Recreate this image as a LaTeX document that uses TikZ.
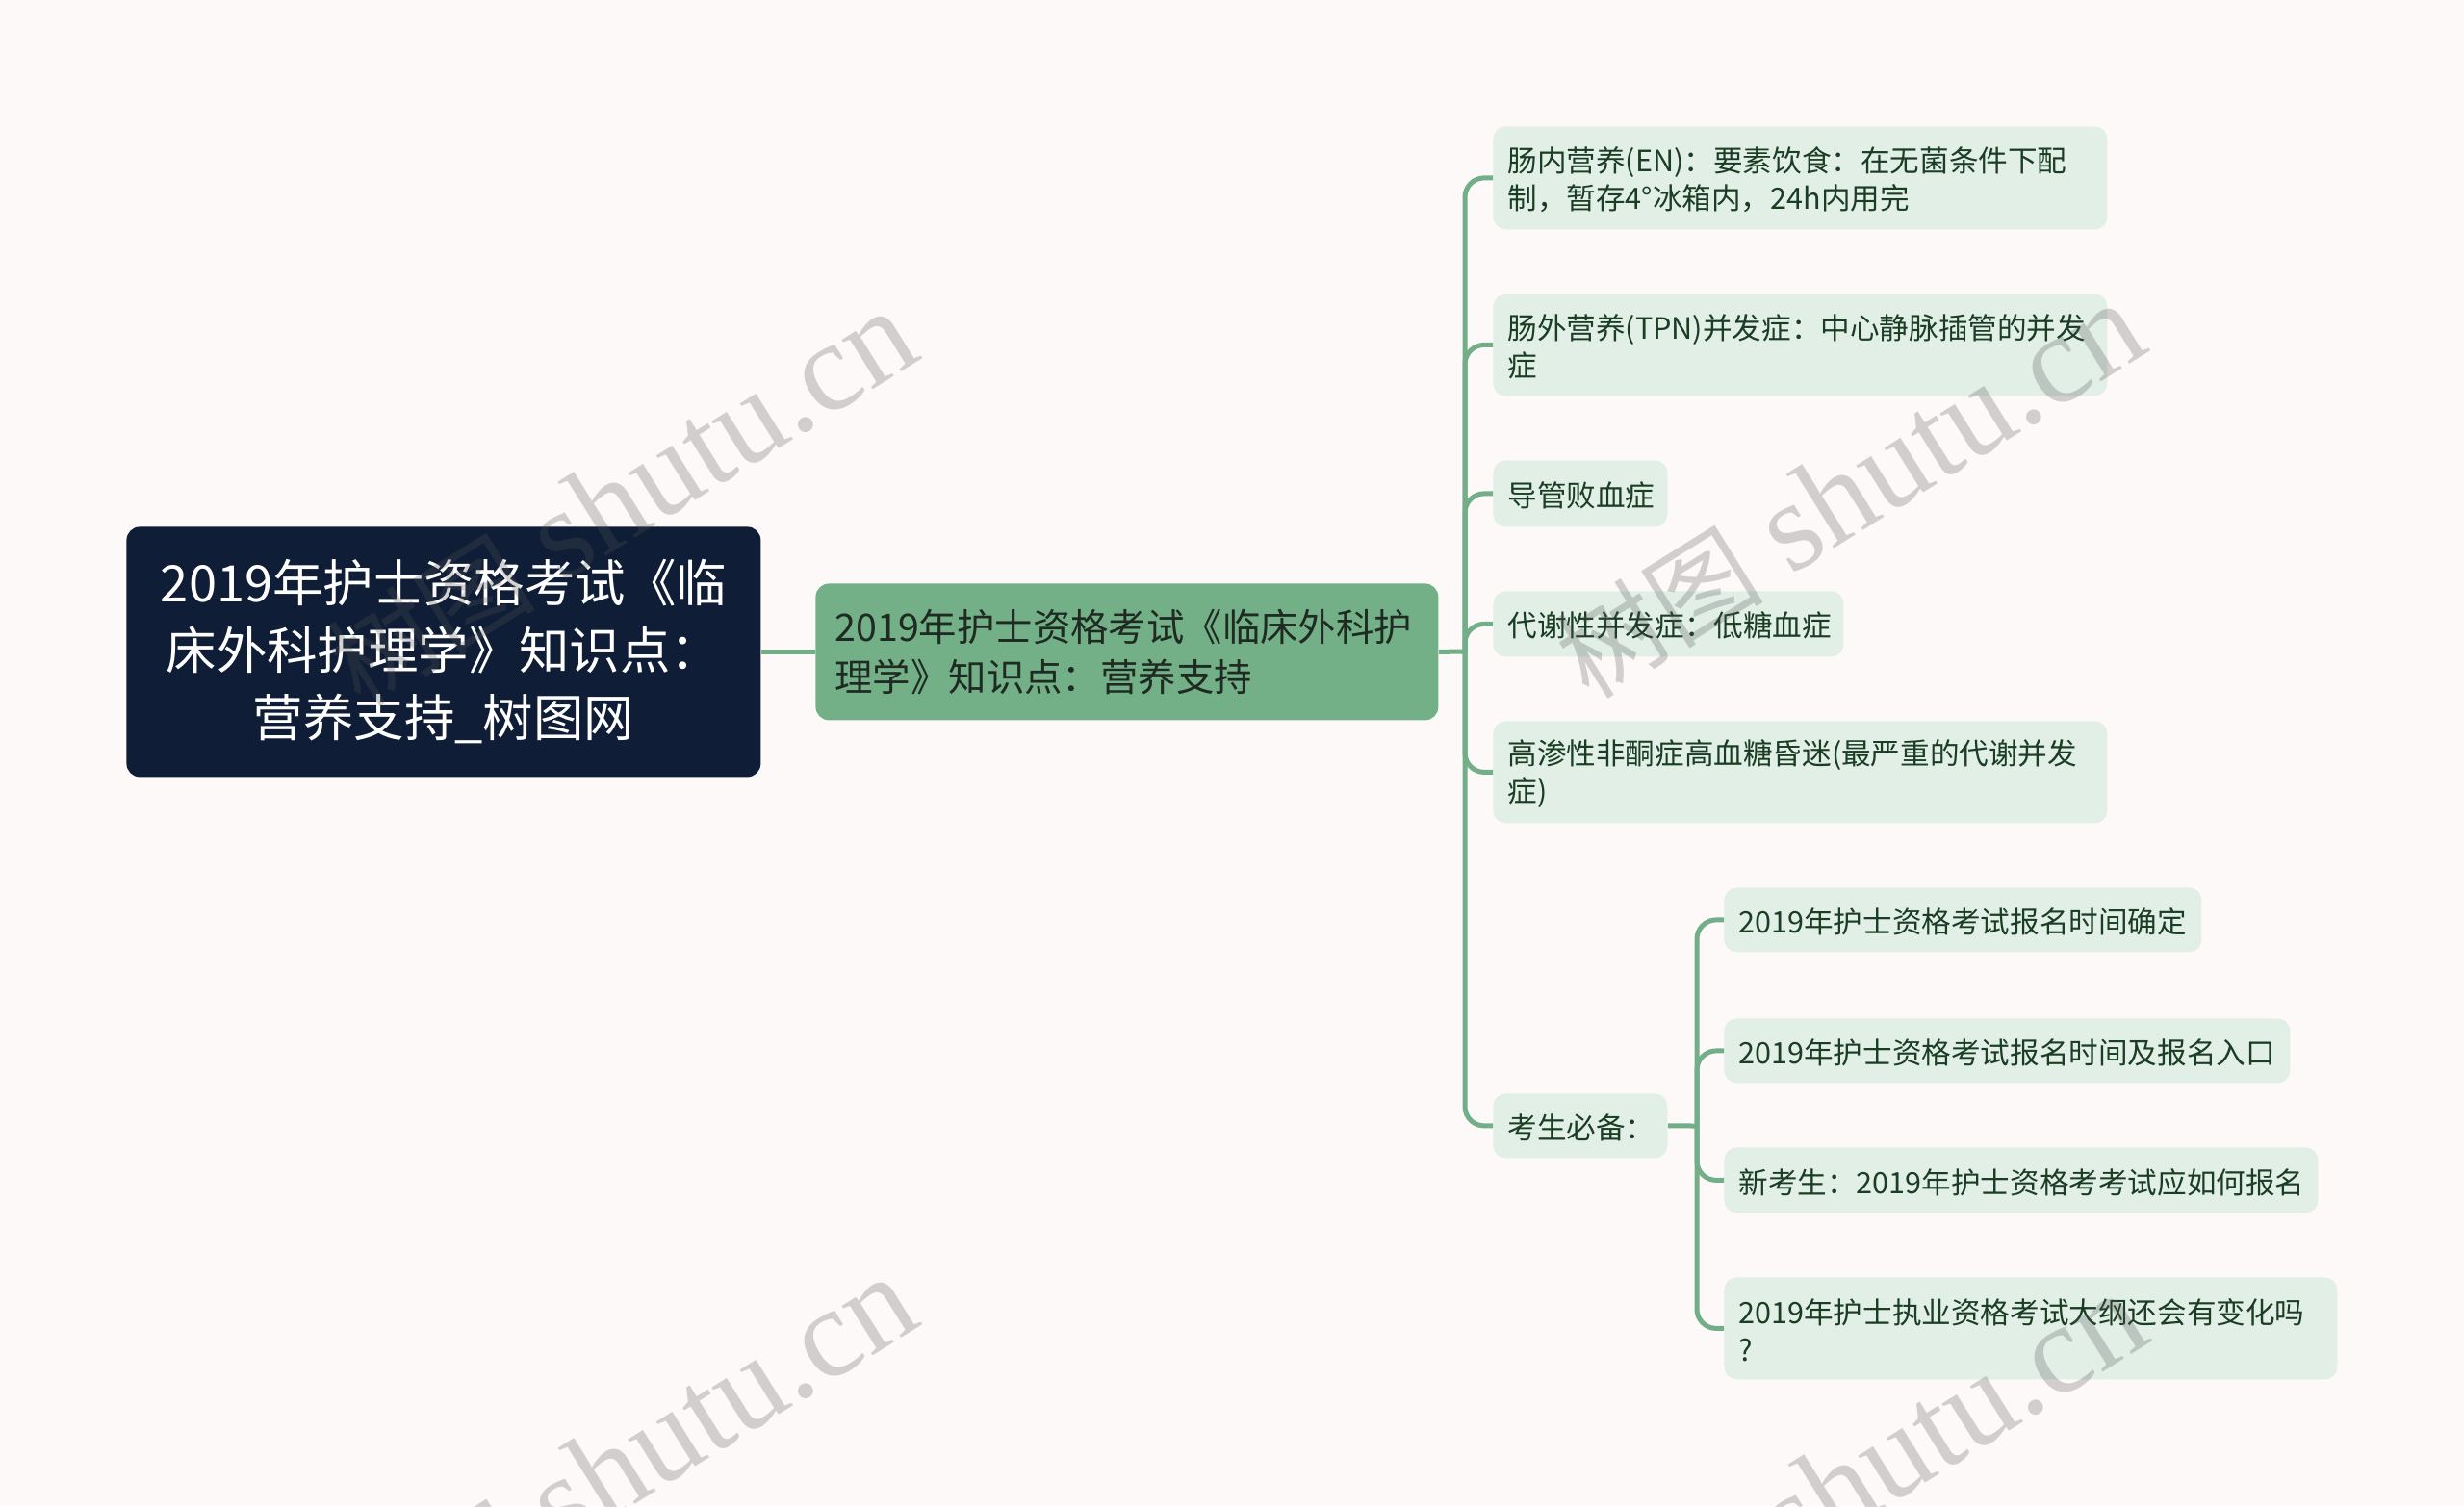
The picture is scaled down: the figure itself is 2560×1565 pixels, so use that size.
\documentclass[tikz,border=0pt]{standalone}
\usepackage{fontspec}
\setmainfont{Noto Sans CJK SC}
\newfontfamily\wmlatin{Liberation Serif}
\newfontfamily\wmcjk{Noto Sans CJK SC}
\usetikzlibrary{calc}
\definecolor{bgc}{HTML}{FDF9F8}
\definecolor{rootc}{HTML}{0F1D36}
\definecolor{mainc}{HTML}{73B087}
\definecolor{leafc}{HTML}{E1EFE6}
\definecolor{linec}{HTML}{72AE87}
\definecolor{leaftextc}{HTML}{1B3D24}
\definecolor{maintextc}{HTML}{1E2A22}
\definecolor{wmc}{HTML}{545454}
\newcommand\mkleaf[6]{%
  \node[leafbox, minimum width=#4*0.5pt, minimum height=#5*0.5pt, anchor=north west] (#1) at (#2,#3) {};
  \node[leaftxt, anchor=west] (#1t) at ([xshift=7.5pt,yshift=-1pt]#1.west) {#6};}
\newcommand\wmtext{{\fontsize{54}{54}\selectfont\wmcjk 树图} {\wmlatin shutu.cn}}
\begin{document}
\begin{tikzpicture}[x=0.5pt,y=-0.5pt,
  conn/.style={draw=linec, line width=2.5pt, rounded corners=10pt},
  rootbox/.style={fill=rootc, rounded corners=7pt, inner sep=0pt},
  roottxt/.style={text=white, font=\fontsize{26.2}{35}\selectfont, align=center, inner sep=0pt},
  mainbox/.style={fill=mainc, rounded corners=7pt, inner sep=0pt},
  maintxt/.style={text=maintextc, font=\fontsize{19.7}{26}\selectfont, align=left, inner sep=0pt},
  leafbox/.style={fill=leafc, rounded corners=6.5pt, inner sep=0pt},
  leaftxt/.style={text=leaftextc, font=\fontsize{15.3}{19.5}\selectfont, align=left, inner sep=0pt},
  wm/.style={text=wmc, opacity=0.26, font=\fontsize{66}{66}\selectfont, inner sep=0pt, rotate=32}]
\useasboundingbox[fill=bgc] (0,0) rectangle (2560,1565);

% root
\node[rootbox, minimum width=329.5pt, minimum height=130pt, anchor=north west] (root) at (131,547) {};
\node[roottxt] (roott) at (root.center) {2019年护士资格考试《临\\床外科护理学》知识点：\\营养支持\_树图网};

% main
\node[mainbox, minimum width=323.5pt, minimum height=71pt, anchor=north west] (main) at (847,606) {};
\node[maintxt, anchor=west] (maint) at ([xshift=10pt]main.west) {2019年护士资格考试《临床外科护\\理学》知识点：营养支持};

% leaves
\mkleaf{l1}{1551}{131}{638}{107}{肠内营养(EN)：要素饮食：在无菌条件下配\\制，暂存4°冰箱内，24h内用完}
\mkleaf{l2}{1551}{305}{638}{106}{肠外营养(TPN)并发症：中心静脉插管的并发\\症}
\mkleaf{l3}{1551}{478}{181}{69}{导管败血症}
\mkleaf{l4}{1551}{614}{364}{68}{代谢性并发症：低糖血症}
\mkleaf{l5}{1551}{749}{638}{106}{高渗性非酮症高血糖昏迷(最严重的代谢并发\\症)}
\mkleaf{l6}{1551}{1136}{181}{67}{考生必备：}

\mkleaf{s1}{1791}{922}{496}{67}{2019年护士资格考试报名时间确定}
\mkleaf{s2}{1791}{1058}{588}{67}{2019年护士资格考试报名时间及报名入口}
\mkleaf{s3}{1791}{1192}{617}{68}{新考生：2019年护士资格考考试应如何报名}
\mkleaf{s4}{1791}{1327}{637}{106}{2019年护士执业资格考试大纲还会有变化吗\\?}

% connectors
\draw[conn] (root.east) -- (main.west);
\coordinate (sp) at (1522,677);
\draw[conn] (main.east) -- (sp);
\foreach \n in {l1,l2,l3,l4,l5,l6} \draw[conn] (sp) |- (\n.west);
\coordinate (sp2) at (1763,1170);
\draw[conn] (l6.east) -- (sp2);
\foreach \n in {s1,s2,s3,s4} \draw[conn] (sp2) |- (\n.west);

% watermarks
\node[wm] (wm1) at (646,519) {\wmtext};
\node[wm] (wm2) at (1922,511) {\wmtext};
\node[wm] (wm3) at (646,1523) {\wmtext};
\node[wm] (wm4) at (1924,1540) {\wmtext};
\end{tikzpicture}
\end{document}
